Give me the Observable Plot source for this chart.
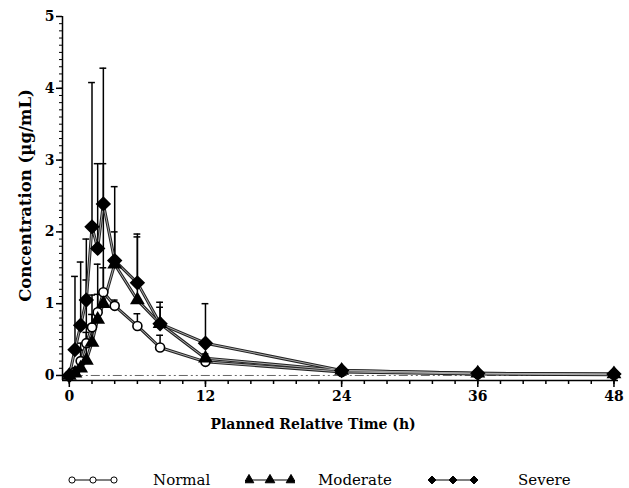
<!DOCTYPE html>
<html><head><meta charset="utf-8">
<script src="https://cdn.jsdelivr.net/npm/d3@7"></script>
<script src="https://cdn.jsdelivr.net/npm/@observablehq/plot@0.6"></script>
<style>
body{margin:0;background:#fff;}
#chart svg{font-family:"DejaVu Serif",serif;display:block;}
#chart g[aria-label="x-axis tick label"] text,#chart g[aria-label="y-axis tick label"] text{font-size:14px;font-weight:bold;}
#legend{position:relative;width:629px;height:52px;font-family:"DejaVu Serif",serif;font-size:15px;}
#legend .it{position:absolute;top:36px;height:16px;line-height:16px;display:flex;align-items:center;}
</style></head>
<body><div id="chart"></div><div id="legend"></div>
<script>
const times = [0,0.5,1,1.5,2,2.5,3,4,6,8,12,24,36,48];
const normal = [0,0.05,0.2,0.45,0.67,0.88,1.16,0.97,0.69,0.39,0.19,0.05,0.02,0.01];
const normalTop = [0,0.1,0.35,0.6,0.85,1.13,1.5,1.05,0.86,0.56,0.25,0.07,0.03,0.02];
const moderate = [0,0.03,0.1,0.21,0.46,0.78,1.0,1.55,1.05,0.72,0.24,0.07,0.03,0.02];
const moderateTop = [0,0.08,0.45,1.33,1.12,1.55,2.95,2.0,1.93,0.95,0.3,0.1,0.04,0.03];
const severe = [0,0.36,0.7,1.05,2.07,1.77,2.39,1.6,1.29,0.72,0.45,0.07,0.03,0.02];
const severeTop = [0,1.38,1.58,1.9,4.08,2.95,4.28,2.63,1.97,1.02,1.0,0.1,0.05,0.03];
const groups = ["Normal","Moderate","Severe"];
const xTicks = [0,12,24,36,48];
const yTicks = [0,1,2,3,4,5];
const xTitle = "Planned Relative Time (h)";
const yTitle = "Concentration (µg/mL)";

const series = {Normal:[normal,normalTop],Moderate:[moderate,moderateTop],Severe:[severe,severeTop]};
const rows = [];
for (const g of groups) times.forEach((t,i)=>rows.push({group:g,t,v:series[g][0][i],top:series[g][1][i]}));
const bars = rows.filter(d=>d.top>d.v+0.02);

const xd = [-0.6,48.4], yd=[-0.07,5];

const plot = Plot.plot({
  width:629,height:436,marginLeft:62,marginRight:11,marginTop:16,marginBottom:56,
  x:{domain:xd},y:{domain:yd},
  marks:[
    Plot.ruleY([0],{x1:0,x2:48,stroke:"#666",strokeWidth:1,strokeDasharray:"9,3,2,3,2,3"}),
    Plot.ruleX(bars,{x:"t",y1:"v",y2:"top",stroke:"#000",strokeWidth:1.5}),
    Plot.ruleY(bars,{y:"top",x1:d=>d.t-0.3,x2:d=>d.t+0.3,stroke:"#000",strokeWidth:1.5}),
    Plot.line(rows,{x:"t",y:"v",z:"group",stroke:"#222",strokeWidth:3}),
    Plot.line(rows,{x:"t",y:"v",z:"group",stroke:"#aaa",strokeWidth:1}),
    Plot.dot(rows.filter(d=>d.group==="Normal"),{x:"t",y:"v",symbol:"circle",r:4.5,stroke:"#000",strokeWidth:1.6,fill:"#fff"}),
    Plot.dot(rows.filter(d=>d.group==="Moderate"),{x:"t",y:"v",symbol:"triangle",r:5.5,fill:"#000",stroke:"none"}),
    Plot.dot(rows.filter(d=>d.group==="Severe"),{x:"t",y:"v",symbol:"diamond2",r:6,fill:"#000",stroke:"#000"}),
    Plot.ruleX([xd[0]],{stroke:"#000",strokeWidth:1.5}),
    Plot.ruleY([yd[0]],{stroke:"#000",strokeWidth:1.5}),
    Plot.axisX({ticks:d3.range(0,49,2),tickSize:4,text:null,label:null,strokeWidth:1.5}),
    Plot.axisX({ticks:xTicks,tickSize:7,tickPadding:4,tickFormat:"d",label:null,strokeWidth:1.5}),
    Plot.axisY({ticks:d3.range(0,50.5,1).map(d=>d/10),tickSize:3,text:null,label:null,strokeWidth:1}),
    Plot.axisY({ticks:yTicks,tickSize:6,tickPadding:2,tickFormat:"d",label:null,strokeWidth:1.5}),
    Plot.text([xTitle],{text:d=>d,frameAnchor:"bottom-left",textAnchor:"start",lineAnchor:"middle",dx:148,dy:44,fontSize:14,fontWeight:"bold"}),
    Plot.text([yTitle],{text:d=>d,frameAnchor:"left",textAnchor:"middle",lineAnchor:"middle",rotate:-90,dx:-37,dy:-3,fontSize:16.5,fontWeight:"bold"})
  ]
});
document.getElementById("chart").appendChild(plot);

// legend
const leg = document.getElementById("legend");
const items = [
  {g:"Normal",sx:68,tx:153},
  {g:"Moderate",sx:245,tx:318},
  {g:"Severe",sx:428,tx:518}
];
for (const it of items){
  const s = document.createElement("div"); s.className="it"; s.style.left=it.sx+"px";
  const sym = d3.create("svg").attr("width",50).attr("height",16);
  sym.append("line").attr("x1",4).attr("x2",46).attr("y1",8).attr("y2",8).attr("stroke","#000").attr("stroke-width",1);
  const sh = d3.symbol().type(it.g==="Normal"?d3.symbolCircle:it.g==="Moderate"?d3.symbolTriangle:d3.symbolDiamond2).size(it.g==="Normal"?30:40);
  [4,25,46].forEach(cx=>sym.append("path").attr("d",sh()).attr("transform",`translate(${cx},8)`)
     .attr("fill",it.g==="Normal"?"#fff":"#000").attr("stroke","#000").attr("stroke-width",1));
  s.appendChild(sym.node());
  leg.appendChild(s);
  const t = document.createElement("div"); t.className="it"; t.style.left=it.tx+"px"; t.textContent=it.g;
  leg.appendChild(t);
}
</script></body></html>
